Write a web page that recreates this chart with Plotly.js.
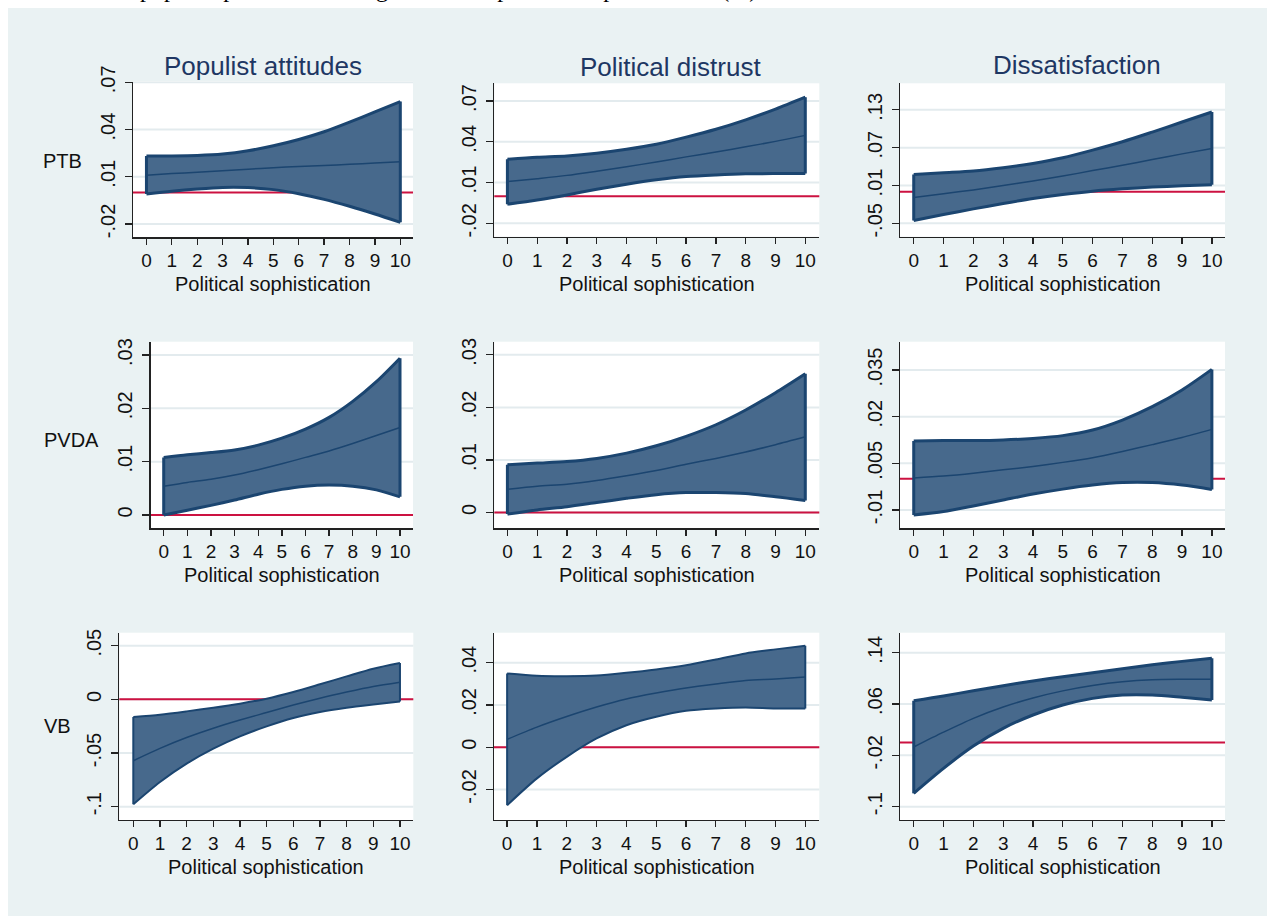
<!DOCTYPE html>
<html>
<head>
<meta charset="utf-8">
<script src="https://cdn.plot.ly/plotly-3.0.1.min.js"></script>
<style>
html,body{margin:0;padding:0;background:#ffffff;}
#chart{width:1267px;height:916px;}
</style>
</head>
<body>
<div id="chart"></div>
<script>
// ---------------- DATA ----------------
const sophistication = [0,1,2,3,4,5,6,7,8,9,10];
const xTickLabels = ['0','1','2','3','4','5','6','7','8','9','10'];
const columnTitles = ['Populist attitudes','Political distrust','Dissatisfaction'];
const rowLabels = ['PTB','PVDA','VB'];
const xAxisTitle = 'Political sophistication';
const captionText = 'of populist parties according to level of political sophistication (%)';

// PTB
const ptbPopulistHi  = [.0231,.0232,.0235,.0244,.0265,.0297,.0337,.0386,.0447,.0512,.0578];
const ptbPopulistMid = [.0110,.0120,.0128,.0138,.0148,.0157,.0165,.0171,.0179,.0187,.0195];
const ptbPopulistLo  = [-.0010,.0008,.0022,.0032,.0031,.0018,-.0008,-.0044,-.0088,-.0137,-.0190];

const ptbDistrustHi  = [.0272,.0286,.0296,.0316,.0345,.0382,.0434,.0492,.0561,.0640,.0728];
const ptbDistrustMid = [.0107,.0129,.0153,.0184,.0217,.0251,.0289,.0324,.0363,.0403,.0447];
const ptbDistrustLo  = [-.0059,-.0028,.0009,.0051,.0088,.0120,.0144,.0156,.0164,.0166,.0166];

const ptbDissatHi  = [.0275,.0301,.0328,.0381,.0450,.0540,.0661,.0794,.0947,.1106,.1265];
const ptbDissatMid = [-.0090,-.0030,.0029,.0098,.0172,.0249,.0336,.0421,.0511,.0601,.0688];
const ptbDissatLo  = [-.0456,-.0361,-.0271,-.0186,-.0107,-.0043,.0010,.0047,.0074,.0095,.0111];

// PVDA
const pvdaPopulistHi  = [.0108,.0113,.0117,.0122,.0131,.0144,.0161,.0183,.0213,.0250,.0294];
const pvdaPopulistMid = [.0054,.0061,.0067,.0075,.0085,.0096,.0108,.0120,.0134,.0149,.0164];
const pvdaPopulistLo  = [.0000,.0009,.0018,.0028,.0039,.0048,.0054,.0056,.0054,.0047,.0034];

const pvdaDistrustHi  = [.0091,.0094,.0097,.0103,.0113,.0127,.0145,.0167,.0195,.0228,.0264];
const pvdaDistrustMid = [.0044,.0050,.0054,.0061,.0070,.0080,.0092,.0103,.0115,.0129,.0144];
const pvdaDistrustLo  = [-.0003,.0005,.0011,.0019,.0027,.0034,.0038,.0038,.0036,.0030,.0023];

const pvdaDissatHi  = [.0122,.0123,.0123,.0125,.0130,.0139,.0157,.0189,.0232,.0286,.0352];
const pvdaDissatMid = [.0003,.0009,.0018,.0029,.0040,.0053,.0068,.0088,.0110,.0133,.0159];
const pvdaDissatLo  = [-.0116,-.0105,-.0087,-.0068,-.0049,-.0033,-.0020,-.0012,-.0012,-.0020,-.0034];

// VB
const vbPopulistHi  = [-.0165,-.0143,-.0112,-.0078,-.0040,.0006,.0068,.0140,.0214,.0286,.0339];
const vbPopulistMid = [-.0572,-.0457,-.0356,-.0269,-.0193,-.0123,-.0053,.0011,.0068,.0120,.0160];
const vbPopulistLo  = [-.0978,-.0770,-.0599,-.0460,-.0345,-.0252,-.0174,-.0118,-.0078,-.0047,-.0019];

const vbDistrustHi  = [.0349,.0338,.0336,.0339,.0352,.0368,.0388,.0415,.0444,.0463,.0480];
const vbDistrustMid = [.0037,.0095,.0145,.0190,.0228,.0256,.0280,.0299,.0316,.0323,.0332];
const vbDistrustLo  = [-.0275,-.0148,-.0046,.0041,.0104,.0144,.0172,.0183,.0188,.0183,.0183];

const vbDissatHi  = [.0652,.0725,.0808,.0886,.0958,.1026,.1088,.1151,.1213,.1265,.1312];
const vbDissatMid = [-.0070,.0161,.0377,.0554,.0694,.0805,.0888,.0946,.0977,.0985,.0987];
const vbDissatLo  = [-.0792,-.0403,-.0055,.0221,.0429,.0584,.0688,.0740,.0740,.0704,.0662];

// y tick values and labels per panel
const yTicksPtbPopulist  = [-.02,.01,.04,.07];
const yLabelsPtbPopulist = ['-.02','.01','.04','.07'];
const yTicksPtbDistrust  = [-.02,.01,.04,.07];
const yLabelsPtbDistrust = ['-.02','.01','.04','.07'];
const yTicksPtbDissat    = [-.05,.01,.07,.13];
const yLabelsPtbDissat   = ['-.05','.01','.07','.13'];
const yTicksPvdaPopulist = [0,.01,.02,.03];
const yLabelsPvdaPopulist= ['0','.01','.02','.03'];
const yTicksPvdaDistrust = [0,.01,.02,.03];
const yLabelsPvdaDistrust= ['0','.01','.02','.03'];
const yTicksPvdaDissat   = [-.01,.005,.02,.035];
const yLabelsPvdaDissat  = ['-.01','.005','.02','.035'];
const yTicksVbPopulist   = [-.1,-.05,0,.05];
const yLabelsVbPopulist  = ['-.1','-.05','0','.05'];
const yTicksVbDistrust   = [-.02,0,.02,.04];
const yLabelsVbDistrust  = ['-.02','0','.02','.04'];
const yTicksVbDissat     = [-.1,-.02,.06,.14];
const yLabelsVbDissat    = ['-.1','-.02','.06','.14'];

// ---------------- LAYOUT / STYLE ----------------
const W = 1267, H = 916;
const px = v => v / W;
const py = v => 1 - v / H;

const NAVY = '#1b4570';
const FILL = '#47698c';
const RED = '#cc1241';
const GRID = '#e3ebee';
const BG = '#eaf2f3';
const FONT = 'Liberation Sans, Arial, sans-serif';

const panels = [
  {hi:ptbPopulistHi, mid:ptbPopulistMid, lo:ptbPopulistLo, tv:yTicksPtbPopulist, tt:yLabelsPtbPopulist,
   box:[133,413,81.7,237.3], xr:[-0.53,10.5], yr:[-.0285,.0704], bw:3},
  {hi:ptbDistrustHi, mid:ptbDistrustMid, lo:ptbDistrustLo, tv:yTicksPtbDistrust, tt:yLabelsPtbDistrust,
   box:[494.3,819.3,83.3,236.7], xr:[-0.44,10.47], yr:[-.0298,.083], bw:3},
  {hi:ptbDissatHi, mid:ptbDissatMid, lo:ptbDissatLo, tv:yTicksPtbDissat, tt:yLabelsPtbDissat,
   box:[900,1225,83.3,236.7], xr:[-0.46,10.44], yr:[-.0712,.172], bw:3},
  {hi:pvdaPopulistHi, mid:pvdaPopulistMid, lo:pvdaPopulistLo, tv:yTicksPvdaPopulist, tt:yLabelsPvdaPopulist,
   box:[150.7,413,341.7,528.3], xr:[-0.55,10.55], yr:[-.0025,.0325], bw:3},
  {hi:pvdaDistrustHi, mid:pvdaDistrustMid, lo:pvdaDistrustLo, tv:yTicksPvdaDistrust, tt:yLabelsPvdaDistrust,
   box:[494.3,819.3,341.7,528.3], xr:[-0.44,10.47], yr:[-.003,.0325], bw:3},
  {hi:pvdaDissatHi, mid:pvdaDissatMid, lo:pvdaDissatLo, tv:yTicksPvdaDissat, tt:yLabelsPvdaDissat,
   box:[900,1225,341.7,528.3], xr:[-0.46,10.44], yr:[-.0159,.0441], bw:3},
  {hi:vbPopulistHi, mid:vbPopulistMid, lo:vbPopulistLo, tv:yTicksVbPopulist, tt:yLabelsVbPopulist,
   box:[119.3,413.3,632.7,820], xr:[-0.525,10.5], yr:[-.1124,.0621], bw:2},
  {hi:vbDistrustHi, mid:vbDistrustMid, lo:vbDistrustLo, tv:yTicksVbDistrust, tt:yLabelsVbDistrust,
   box:[494,819.3,632.7,820], xr:[-0.44,10.47], yr:[-.0345,.0542], bw:2},
  {hi:vbDissatHi, mid:vbDissatMid, lo:vbDissatLo, tv:yTicksVbDissat, tt:yLabelsVbDissat,
   box:[900,1225,632.7,820], xr:[-0.46,10.44], yr:[-.1208,.1712], bw:3}
];

const titlePos = [[262.7,66],[670.5,67],[1077,65]];
const rowLabelPos = [[62,161],[71,440],[57,726]];

const traces = [];
const layout = {
  width: W, height: H,
  margin: {l:0, r:0, t:0, b:0},
  paper_bgcolor: BG,
  plot_bgcolor: '#ffffff',
  showlegend: false,
  font: {family: FONT, color: '#111111'},
  shapes: [
    {type:'rect', xref:'paper', yref:'paper', x0:0, x1:1, y0:py(8), y1:1.01, fillcolor:'#ffffff', line:{width:0}, layer:'below'},
    {type:'rect', xref:'paper', yref:'paper', x0:-0.01, x1:px(8), y0:-0.01, y1:1.01, fillcolor:'#ffffff', line:{width:0}, layer:'below'}
  ],
  annotations: []
};

panels.forEach((p, i) => {
  const s = i === 0 ? '' : String(i + 1);
  const xa = 'x' + s, ya = 'y' + s;
  const n = sophistication.length - 1;
  const smooth = {shape:'spline', smoothing:0.8};
  // lower bound
  traces.push({x: sophistication, y: p.lo, xaxis: xa, yaxis: ya, mode: 'lines',
    line: Object.assign({color: NAVY, width: p.bw}, smooth), hoverinfo: 'skip'});
  // upper bound filled to lower
  traces.push({x: sophistication, y: p.hi, xaxis: xa, yaxis: ya, mode: 'lines', fill: 'tonexty',
    fillcolor: FILL, line: Object.assign({color: NAVY, width: p.bw}, smooth), hoverinfo: 'skip'});
  // vertical end edges of the band
  traces.push({x: [sophistication[0], sophistication[0], null, sophistication[n], sophistication[n]],
    y: [p.lo[0], p.hi[0], null, p.lo[n], p.hi[n]], xaxis: xa, yaxis: ya, mode: 'lines',
    line: {color: NAVY, width: p.bw}, hoverinfo: 'skip'});
  // point estimate
  traces.push({x: sophistication, y: p.mid, xaxis: xa, yaxis: ya, mode: 'lines',
    line: Object.assign({color: NAVY, width: 1.5}, smooth), hoverinfo: 'skip'});

  const [l, r, t, b] = p.box;
  layout['xaxis' + s] = {
    domain: [px(l), px(r)], anchor: ya, range: p.xr,
    tickvals: sophistication, ticktext: xTickLabels,
    showline: true, linecolor: '#222222', linewidth: 1.3,
    ticks: 'outside', ticklen: 6, tickwidth: 1.3, tickcolor: '#222222',
    ticklabelstandoff: 0,
    tickfont: {family: FONT, size: 19, color: '#111111'},
    showgrid: false, zeroline: false, fixedrange: true
  };
  layout['yaxis' + s] = {
    domain: [py(b), py(t)], anchor: xa, range: p.yr,
    tickvals: p.tv, ticktext: p.tt, tickangle: -90,
    showline: true, linecolor: '#222222', linewidth: 1.3,
    ticks: 'outside', ticklen: 7, tickwidth: 1.3, tickcolor: '#222222',
    ticklabelstandoff: 2,
    tickfont: {family: FONT, size: 20, color: '#111111'},
    showgrid: false, zeroline: false, fixedrange: true
  };
  // light horizontal gridlines at the y tick values
  p.tv.forEach(v => {
    layout.shapes.push({type: 'line', xref: xa + ' domain', yref: ya, x0: 0, x1: 1, y0: v, y1: v,
      line: {color: GRID, width: 2}, layer: 'below'});
  });
  // red reference line at zero
  layout.shapes.push({type: 'line', xref: xa + ' domain', yref: ya, x0: 0, x1: 1, y0: 0, y1: 0,
    line: {color: RED, width: 2}, layer: 'below'});
  // x axis title
  layout.annotations.push({text: xAxisTitle, xref: 'paper', yref: 'paper',
    x: px((l + r) / 2), y: py(b + 47), xanchor: 'center', yanchor: 'middle', showarrow: false,
    font: {family: FONT, size: 20, color: '#111111'}});
});

columnTitles.forEach((tt, j) => {
  layout.annotations.push({text: tt, xref: 'paper', yref: 'paper',
    x: px(titlePos[j][0]), y: py(titlePos[j][1]), xanchor: 'center', yanchor: 'middle', showarrow: false,
    font: {family: FONT, size: 26, color: '#1e3763'}});
});
rowLabels.forEach((tt, k) => {
  layout.annotations.push({text: tt, xref: 'paper', yref: 'paper',
    x: px(rowLabelPos[k][0]), y: py(rowLabelPos[k][1]), xanchor: 'center', yanchor: 'middle', showarrow: false,
    font: {family: FONT, size: 20, color: '#111111'}});
});
layout.annotations.push({text: captionText, xref: 'paper', yref: 'paper',
  x: px(112), y: py(-11), xanchor: 'left', yanchor: 'middle', showarrow: false,
  font: {family: 'Liberation Serif, Times New Roman, serif', size: 24, color: '#000000'}});

Plotly.newPlot('chart', traces, layout, {staticPlot: true, displayModeBar: false});
</script>
</body>
</html>
